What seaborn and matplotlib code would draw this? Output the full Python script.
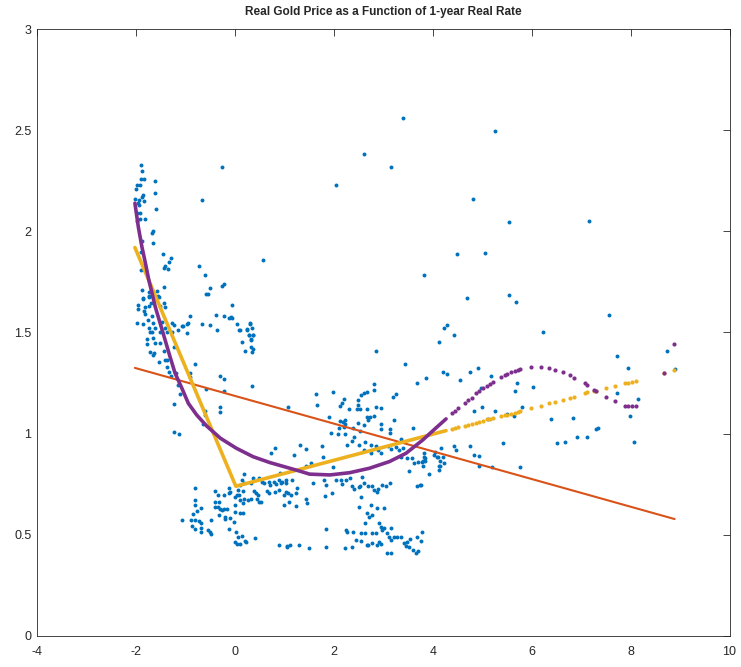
import matplotlib
matplotlib.use('Agg')
import matplotlib.pyplot as plt
import numpy as np
import pandas as pd
import seaborn as sns

# %% datos: tasa real a 1 anio (x) vs precio real del oro (y)

# columna de la izquierda (tasa cerca de -2)
left_cluster = [
    (-1.89, 2.33), (-1.88, 2.30), (-1.90, 2.26), (-1.83, 2.26), (-1.61, 2.25), (-1.98, 2.23),
    (-1.91, 2.23), (-0.26, 2.32), (-1.99, 2.21), (-1.61, 2.19), (-1.85, 2.18), (-1.88, 2.17),
    (-2.01, 2.16), (-1.93, 2.155), (-1.83, 2.15), (-0.66, 2.157), (-1.95, 2.14), (-1.93, 2.13),
    (-1.60, 2.11), (-1.98, 2.09), (-1.91, 2.09), (-1.91, 2.06), (-1.81, 2.06), (-1.97, 2.05),
    (-1.66, 2.00), (-1.68, 1.99), (-1.66, 1.94), (-1.87, 1.95), (-1.89, 1.90), (-1.45, 1.89),
    (-1.30, 1.87), (-1.34, 1.85), (-1.41, 1.83), (-1.43, 1.82), (-1.36, 1.815), (-0.72, 1.83),
    (-0.61, 1.785), (-1.90, 1.81), (-1.44, 1.725), (-0.51, 1.72), (-0.575, 1.69), (-0.55, 1.69),
    (-0.22, 1.74), (-0.25, 1.73), (-1.88, 1.71), (-1.73, 1.68), (-1.55, 1.68), (-1.85, 1.67),
    (0.57, 1.86), (-0.05, 1.635), (-0.905, 1.58), (-0.39, 1.587), (-0.22, 1.58), (-0.12, 1.573),
    (-0.08, 1.577), (-0.05, 1.57), (0.04, 1.54), (0.31, 1.54), (0.35, 1.52), (0.25, 1.51),
    (0.09, 1.51), (0.36, 1.49), (0.28, 1.49), (-0.67, 1.54), (-0.51, 1.535), (-0.37, 1.51),
    (-0.96, 1.54), (-1.14, 1.51), (-1.06, 1.53), (0.33, 1.467),
    (-1.73, 1.70), (-1.57, 1.705), (-1.85, 1.666), (-1.73, 1.674), (-1.54, 1.677), (-1.66, 1.677),
    (-1.96, 1.636), (-1.825, 1.625), (-1.745, 1.63), (-1.95, 1.616), (-1.84, 1.608), (-1.70, 1.645),
    (-1.43, 1.645), (-1.51, 1.63), (-1.41, 1.625), (-1.81, 1.59), (-1.68, 1.58), (-1.97, 1.546),
    (-1.86, 1.54), (-1.76, 1.56), (-1.66, 1.546), (-1.47, 1.55), (-1.27, 1.546), (-1.22, 1.537),
    (-1.05, 1.53), (-0.95, 1.546), (-1.745, 1.52), (-1.72, 1.50), (-1.68, 1.504), (-1.61, 1.52),
    (-1.51, 1.504), (-1.42, 1.52), (-1.37, 1.504), (-1.28, 1.50), (-0.97, 1.496), (-1.78, 1.47),
    (-1.66, 1.475), (-1.61, 1.45), (-1.51, 1.447), (-1.77, 1.442), (-1.71, 1.405), (-1.64, 1.397),
    (-1.66, 1.39), (0.10, 1.51), (0.25, 1.518), (0.28, 1.488), (0.37, 1.49), (0.15, 1.455),
    (0.32, 1.463), (0.33, 1.43), (0.21, 1.41), (0.34, 1.405), (0.37, 1.417), (0.30, 1.545),
    (-1.24, 1.427), (-1.43, 1.41), (-1.54, 1.356), (-1.42, 1.364), (-1.37, 1.364), (-0.81, 1.345),
    (-1.37, 1.33), (-1.34, 1.306), (-1.30, 1.285), (-1.18, 1.30), (-1.14, 1.24), (-1.10, 1.196),
    (-0.91, 1.30), (-0.90, 1.28), (-0.31, 1.285), (-0.21, 1.27), (0.35, 1.236), (-0.22, 1.21),
    (-0.575, 1.22), (-1.24, 1.145), (-0.60, 1.11), (-0.60, 1.09), (-0.31, 1.13), (-0.31, 1.105),
    (-0.65, 1.05), (-1.24, 1.007), (-1.12, 0.997),
]

# nube de abajo (tasa entre -1 y 1.3)
low_cluster = [
    (0.82, 0.93), (0.73, 0.905), (1.32, 0.946), (0.195, 0.80), (0.37, 0.78), (0.32, 0.755),
    (0.15, 0.77), (0.195, 0.755), (0.11, 0.746), (0.48, 0.78), (0.55, 0.763), (0.59, 0.755),
    (0.69, 0.763), (0.79, 0.763), (0.71, 0.746), (0.84, 0.75), (0.89, 0.77), (0.94, 0.755),
    (1.03, 0.77), (1.03, 0.755), (1.16, 0.77), (0.92, 0.807),
    (-0.80, 0.73), (-0.40, 0.717), (-0.115, 0.73), (-0.10, 0.713), (0.07, 0.72), (0.17, 0.717),
    (0.08, 0.697), (0.11, 0.672), (0.18, 0.677), (0.26, 0.672), (0.32, 0.677), (0.385, 0.717),
    (0.42, 0.705), (0.46, 0.697), (0.44, 0.676), (0.49, 0.664), (0.53, 0.664), (0.65, 0.717),
    (0.69, 0.705), (0.81, 0.713), (0.90, 0.72), (0.99, 0.697), (1.07, 0.705), (1.03, 0.713),
    (1.14, 0.697), (1.23, 0.705),
    (-0.81, 0.672), (-0.80, 0.645), (-0.68, 0.635), (-0.76, 0.618), (-0.85, 0.603), (-1.06, 0.573),
    (-0.89, 0.573), (-0.80, 0.573), (-0.73, 0.570), (-0.68, 0.557), (-0.865, 0.545), (-0.80, 0.527),
    (-0.68, 0.535), (-0.68, 0.515), (-0.55, 0.524), (-0.51, 0.512), (-0.49, 0.504),
    (-0.35, 0.697), (-0.22, 0.697), (-0.12, 0.705), (-0.41, 0.664), (-0.33, 0.664), (-0.41, 0.639),
    (-0.35, 0.639), (-0.29, 0.628), (-0.26, 0.623), (-0.22, 0.628), (-0.16, 0.626), (-0.19, 0.59),
    (-0.09, 0.582), (0.01, 0.611), (0.11, 0.606), (0.17, 0.609), (-0.49, 0.573), (-0.33, 0.598),
    (-0.20, 0.577), (-0.02, 0.565), (0.01, 0.689), (0.01, 0.648), (0.17, 0.656), (0.05, 0.697),
    (-0.12, 0.527), (0.03, 0.515), (0.15, 0.494), (0.07, 0.488), (0.20, 0.47), (0.235, 0.463),
    (0.00, 0.463), (0.05, 0.455), (0.10, 0.455), (0.40, 0.483), (0.89, 0.45), (1.05, 0.441),
    (1.11, 0.45), (1.30, 0.45), (1.07, 1.13), (0.96, 0.763), (1.09, 0.664), (0.99, 0.648),
    (1.045, 0.446),
]

# nube del medio (tasa entre 1 y 4.2)
mid_cluster = [
    (4.13, 1.455), (2.85, 1.41), (3.44, 1.345), (3.69, 1.25), (3.855, 1.274), (2.81, 1.244),
    (2.82, 1.216), (1.65, 1.195), (1.98, 1.206), (1.67, 1.142), (2.21, 1.17), (2.17, 1.15),
    (2.125, 1.137), (2.48, 1.167), (2.48, 1.142), (2.46, 1.122), (2.54, 1.122), (2.56, 1.19),
    (2.61, 1.20), (2.68, 1.208), (2.31, 1.122), (2.22, 1.068), (2.19, 1.06), (2.23, 1.05),
    (2.13, 1.063), (2.68, 1.12), (2.67, 1.084), (2.73, 1.081), (2.69, 1.068), (2.86, 1.133),
    (2.95, 1.128), (2.81, 1.089), (3.20, 1.183), (3.25, 1.195), (3.22, 1.068), (3.61, 1.03),
    (3.355, 0.972), (3.14, 1.022), (3.14, 1.002), (2.95, 1.046), (2.95, 1.022), (1.90, 1.081),
    (2.10, 1.027), (2.21, 1.032), (1.95, 1.005), (2.085, 0.998), (2.22, 0.997), (2.38, 1.03),
    (2.48, 1.052), (2.61, 1.043), (2.54, 1.013), (2.41, 0.985), (1.43, 0.924), (1.19, 0.895),
    (1.77, 0.939), (1.79, 0.886), (1.99, 0.837), (1.53, 0.857), (1.43, 0.842),
    (2.275, 0.944), (2.375, 0.966), (2.51, 0.944), (2.64, 0.96), (2.62, 0.919), (2.75, 0.944),
    (2.85, 0.94), (2.75, 0.906), (2.90, 0.919), (2.95, 0.906), (3.09, 0.939), (3.16, 0.923),
    (3.26, 0.933), (3.32, 0.919), (3.39, 0.927), (3.355, 0.883), (3.49, 0.878), (3.59, 0.878),
    (3.62, 0.857), (3.71, 0.859), (3.52, 0.816), (3.69, 0.743), (3.74, 0.745), (3.81, 0.84),
    (3.83, 0.886), (3.79, 0.861), (3.93, 0.80), (4.03, 0.894), (4.08, 0.883), (4.13, 0.84),
    (4.12, 0.82), (1.25, 0.73), (1.57, 0.755), (1.80, 0.77), (1.84, 0.746), (1.97, 0.708),
    (1.82, 0.694), (2.04, 0.77), (2.14, 0.77), (2.17, 0.75), (2.24, 0.77), (2.32, 0.782),
    (2.36, 0.741), (2.41, 0.725), (2.51, 0.738), (2.54, 0.743), (2.58, 0.784), (2.61, 0.758),
    (2.69, 0.743), (2.77, 0.743), (2.81, 0.722), (2.87, 0.714), (2.90, 0.725), (2.97, 0.746),
    (3.05, 0.743), (3.14, 0.755), (1.23, 0.643), (1.43, 0.676), (1.466, 0.656), (2.56, 0.689),
    (2.75, 0.647), (2.50, 0.639), (2.68, 0.606), (2.78, 0.598), (2.71, 0.59), (2.64, 0.56),
    (2.91, 0.557), (2.95, 0.54), (3.02, 0.532), (2.98, 0.524), (2.88, 0.631), (3.02, 0.631),
    (1.84, 0.527), (2.24, 0.524), (2.26, 0.516), (2.38, 0.513), (2.55, 0.511), (2.63, 0.511),
    (2.78, 0.511), (2.85, 0.508), (3.15, 0.532), (3.08, 0.511), (3.12, 0.491), (3.15, 0.475),
    (3.22, 0.488), (3.27, 0.491), (2.44, 0.475), (2.56, 0.47), (2.77, 0.458), (2.68, 0.45),
    (2.91, 0.463), (2.96, 0.455), (1.50, 0.433), (1.84, 0.438), (2.23, 0.433), (2.36, 0.441),
    (2.69, 0.448), (2.87, 0.45), (3.08, 0.409), (3.15, 0.412), (3.35, 0.491), (3.49, 0.466),
    (3.42, 0.458), (3.45, 0.446), (3.55, 0.479), (3.61, 0.425), (3.66, 0.409), (3.69, 0.491),
    (3.76, 0.47), (3.79, 0.516), (3.71, 0.42), (3.52, 0.442),
    (3.83, 0.903), (3.85, 0.881), (3.81, 0.865), (3.85, 0.865), (3.76, 0.746),
]

# puntos sueltos a la derecha y arriba
right_scatter = [
    (4.29, 1.537), (4.23, 1.524), (4.43, 1.49), (6.23, 1.504), (4.21, 1.303), (4.29, 1.297),
    (4.56, 1.267), (4.75, 1.303), (4.91, 1.326), (5.18, 1.287), (5.70, 1.25), (5.66, 1.213),
    (6.03, 1.229), (4.98, 1.227), (5.00, 1.13), (4.83, 1.114), (5.26, 1.11), (5.12, 1.071),
    (5.50, 1.096), (5.64, 1.089), (5.81, 1.132), (7.72, 1.386), (7.94, 1.323), (8.74, 1.409),
    (7.73, 1.203), (8.15, 1.17), (7.98, 1.089), (8.07, 0.957), (6.40, 1.074), (6.83, 1.076),
    (6.52, 0.954), (6.67, 0.96), (6.91, 0.982), (7.12, 0.985), (7.305, 1.023), (7.35, 1.03),
    (5.43, 0.956), (5.77, 0.837), (4.165, 0.928), (4.05, 0.908), (4.10, 0.886), (4.20, 0.886),
    (4.15, 0.867), (4.23, 0.857), (4.15, 0.842), (4.43, 0.94), (4.48, 0.92), (4.76, 0.94),
    (4.83, 0.895), (4.94, 0.89), (4.94, 0.842), (5.20, 0.835), (8.89, 1.318),
    (3.40, 2.562), (5.26, 2.498), (4.82, 2.159), (5.54, 2.045), (7.16, 2.05), (4.50, 1.89),
    (5.06, 1.893), (3.83, 1.785), (4.69, 1.669), (5.54, 1.684), (5.68, 1.65), (7.56, 1.585),
    (2.04, 2.23), (3.16, 2.318), (2.61, 2.38),
]

# ajuste lineal (rojo)
lin_x = [-2.02, 8.89]
lin_y = [1.325, 0.578]

# ajuste lineal por tramos (amarillo), parte densa
pw_x = [-2.02, 0.02, 4.27]
pw_y = [1.92, 0.74, 1.015]

# ajuste cubico (violeta), parte densa
cub_x = [-2.02, -1.95, -1.88, -1.80, -1.74, -1.68, -1.61, -1.51, -1.41, -1.31, -1.21, -1.07,
         -0.94, -0.77, -0.57, -0.29, 0.03, 0.37, 0.71, 1.04, 1.31, 1.51, 1.92, 2.32, 2.72,
         3.125, 3.46, 3.80, 4.06, 4.27]
cub_y = [2.139, 2.02, 1.925, 1.834, 1.76, 1.70, 1.628, 1.546, 1.463, 1.38, 1.30, 1.224,
         1.15, 1.092, 1.038, 0.977, 0.928, 0.886, 0.857, 0.834, 0.815, 0.80, 0.796, 0.807, 0.829,
         0.862, 0.903, 0.969, 1.027, 1.073]

# puntos sueltos de los dos ajustes a la derecha
sparse_x = [4.40, 4.46, 4.52, 4.66, 4.72, 4.79, 4.885, 4.94, 5.02, 5.095, 5.155, 5.22, 5.39,
            5.46, 5.51, 5.59, 5.66, 5.73, 5.77, 5.99, 6.18, 6.36, 6.47, 6.63, 6.78, 6.86, 7.08,
            7.12, 7.26, 7.31, 7.51, 7.675, 7.89, 7.94, 8.03, 8.10, 8.68, 8.885]
sparse_cub = [1.101, 1.112, 1.125, 1.153, 1.167, 1.178, 1.20, 1.211, 1.224, 1.236, 1.246, 1.256,
              1.279, 1.289, 1.295, 1.305, 1.31, 1.315, 1.318, 1.328, 1.328, 1.323, 1.316, 1.305,
              1.289, 1.277, 1.251, 1.242, 1.218, 1.211, 1.18, 1.16, 1.138, 1.137, 1.135, 1.137,
              1.299, 1.442]
sparse_pw = [1.023, 1.03, 1.032, 1.038, 1.043, 1.048, 1.054, 1.059, 1.064, 1.071, 1.074, 1.078,
             1.087, 1.092, 1.094, 1.099, 1.104, 1.107, 1.112, 1.125, 1.137, 1.15, 1.158, 1.167,
             1.176, 1.183, 1.20, 1.205, 1.211, 1.211, 1.224, 1.236, 1.249, 1.252, 1.257, 1.262,
             1.30, 1.315]

xticks = [-4, -2, 0, 2, 4, 6, 8, 10]
yticks = [0, 0.5, 1, 1.5, 2, 2.5, 3]
ytick_labels = ['0', '0.5', '1', '1.5', '2', '2.5', '3']

# %% grafico
sns.set_theme(style='white')
plt.rcParams['font.family'] = ['Liberation Sans', 'DejaVu Sans']

datos = pd.DataFrame(left_cluster + low_cluster + mid_cluster + right_scatter,
                     columns=['rate', 'gold'])

fig = plt.figure(figsize=(7.41, 6.67), dpi=100)
ax = fig.add_axes([0.0499, 0.0465, 0.9346, 0.910])

azul = '#0072BD'
rojo = '#D95319'
amarillo = '#EDB120'
violeta = '#7E2F8E'

sns.scatterplot(data=datos, x='rate', y='gold', color=azul, s=8, linewidth=0, ax=ax)
sns.lineplot(x=lin_x, y=lin_y, color=rojo, linewidth=1.5, sort=False, estimator=None, ax=ax)
sns.lineplot(x=pw_x, y=pw_y, color=amarillo, linewidth=2.6, sort=False, estimator=None, ax=ax)
sns.scatterplot(x=sparse_x, y=sparse_pw, color=amarillo, s=9, linewidth=0, ax=ax)
sns.lineplot(x=cub_x, y=cub_y, color=violeta, linewidth=2.6, sort=False, estimator=None, ax=ax)
sns.scatterplot(x=sparse_x, y=sparse_cub, color=violeta, s=9, linewidth=0, ax=ax)

ax.set_xlim(-4, 10)
ax.set_ylim(0, 3)
ax.set_xticks(xticks, labels=[str(t) for t in xticks])
ax.set_yticks(yticks, labels=ytick_labels)
ax.set_xlabel('')
ax.set_ylabel('')
ax.tick_params(direction='in', length=5, width=0.6, top=True, right=True,
               labelsize=9, colors='#262626')
ax.tick_params(axis='x', pad=7)
ax.tick_params(axis='y', pad=4)
for s in ax.spines.values():
    s.set_color('#262626')
    s.set_linewidth(0.6)

ax.set_title('Real Gold Price as a Function of 1-year Real Rate', fontsize=8.5,
             fontweight='bold', pad=10)

fig.savefig('out.png', dpi=100)
